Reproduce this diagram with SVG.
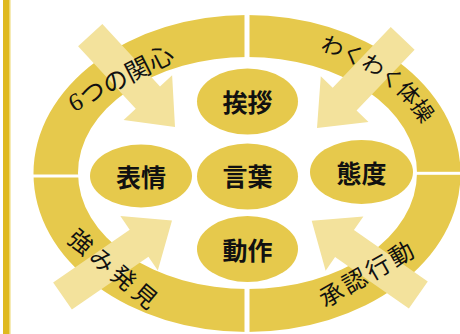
<svg xmlns="http://www.w3.org/2000/svg" width="460" height="334" viewBox="0 0 460 334">
<style>
.gold{fill:#e6c94c}
.arrow{fill:#f3e29c}
.gap{fill:#ffffff}
.node-label{font-family:"Liberation Serif","Noto Sans CJK JP",serif;font-size:25px;font-weight:bold;fill:#111;text-anchor:middle;dominant-baseline:central}
.ring-label{font-family:"Liberation Serif","Noto Sans CJK JP",serif;fill:#111;text-anchor:middle;dominant-baseline:central}
</style>
<defs>
<path id="p-kanshin" d="M32,123.4 L210,32.6"/>
<path id="p-taiso" d="M246.5,31.7 A196.6,141.8 0 0 1 443.1,173.5"/>
<path id="p-tsuyomi" d="M37.4,206.7 L190.6,335.3"/>
<path id="p-shonin" d="M281.4,324 L454.6,224"/>
</defs>
<rect width="460" height="334" fill="#ffffff"/>
<g id="side-bar">
<rect x="3" y="0" width="6" height="334" fill="#dfb91f"/>
<rect x="9" y="0" width="1.5" height="334" fill="#eed76f"/>
</g>
<g id="ring">
<path class="gold" fill-rule="evenodd" d="M33.5,173.5 A213.5,158.5 0 1 0 460.5,173.5 A213.5,158.5 0 1 0 33.5,173.5 Z M78,173 A169.5,116 0 1 1 417,173 A169.5,116 0 1 1 78,173 Z"/>
<rect class="gap" x="244.5" y="8" width="5" height="52"/>
<rect class="gap" x="244.5" y="285" width="5" height="50"/>
<rect class="gap" x="28" y="174.5" width="53" height="3"/>
<rect class="gap" x="414" y="171.8" width="50" height="3"/>
</g>
<g id="node-aisatsu"><ellipse class="gold" cx="247.5" cy="101.5" rx="50.5" ry="33"/><text class="node-label" x="247.5" y="103.5">挨拶</text></g>
<g id="node-hyojo"><ellipse class="gold" cx="141" cy="176" rx="51" ry="31.5"/><text class="node-label" x="141" y="178">表情</text></g>
<g id="node-kotoba"><ellipse class="gold" cx="247.5" cy="176.5" rx="50.5" ry="33"/><text class="node-label" x="247.5" y="177.5">言葉</text></g>
<g id="node-taido"><ellipse class="gold" cx="361.5" cy="172" rx="51.5" ry="32"/><text class="node-label" x="361.5" y="174">態度</text></g>
<g id="node-dosa"><ellipse class="gold" cx="247.5" cy="249" rx="50.5" ry="33"/><text class="node-label" x="247.5" y="251">動作</text></g>
<g id="connectors">
<path class="arrow" transform="translate(175,127) rotate(47.3)" d="M0,0 L-40,-33 L-40,-16.5 L-125,-16.5 L-125,16.5 L-40,16.5 L-40,33 Z"/>
<path class="arrow" transform="translate(317,128) rotate(133.7)" d="M0,0 L-40,-33 L-40,-16.5 L-124,-16.5 L-124,16.5 L-40,16.5 L-40,33 Z"/>
<path class="arrow" transform="translate(172,220.5) rotate(-34.6)" d="M0,0 L-40,-33 L-40,-16.5 L-133,-16.5 L-133,16.5 L-40,16.5 L-40,33 Z"/>
<path class="arrow" transform="translate(311.7,220.7) rotate(-145.1)" d="M0,0 L-40,-33 L-40,-16.5 L-130,-16.5 L-130,16.5 L-40,16.5 L-40,33 Z"/>
</g>
<g id="label-kanshin"><text class="ring-label" font-size="25" letter-spacing="0.5"><textPath href="#p-kanshin" startOffset="50%">6つの関心</textPath></text></g>
<g id="label-taiso"><text class="ring-label" font-size="22" letter-spacing="0.5"><textPath href="#p-taiso" startOffset="54%">わくわく体操</textPath></text></g>
<g id="label-tsuyomi"><text class="ring-label" font-size="24" letter-spacing="4"><textPath href="#p-tsuyomi" startOffset="50%">強み発見</textPath></text></g>
<g id="label-shonin"><text class="ring-label" font-size="24" letter-spacing="3"><textPath href="#p-shonin" startOffset="50%">承認行動</textPath></text></g>
</svg>
